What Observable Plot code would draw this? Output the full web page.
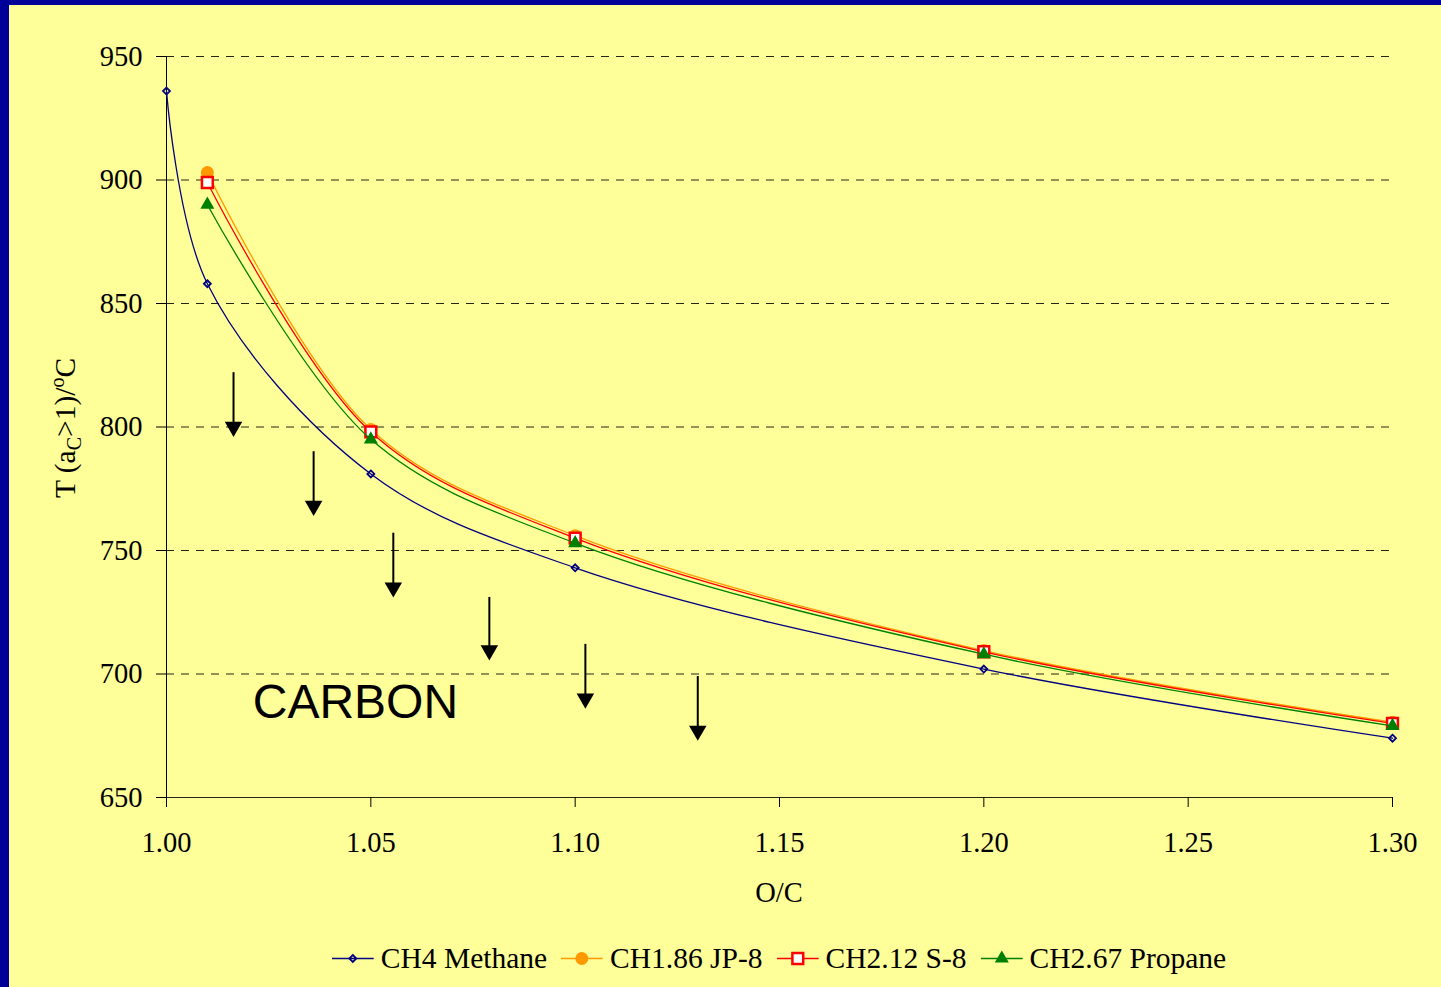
<!DOCTYPE html>
<html>
<head>
<meta charset="utf-8">
<script src="https://cdn.jsdelivr.net/npm/d3@7"></script>
<script src="https://cdn.jsdelivr.net/npm/@observablehq/plot@0.6"></script>
<style>
  html, body { margin: 0; padding: 0; width: 1441px; height: 987px; overflow: hidden; background: #000099; }
  #frame { position: absolute; left: 9px; top: 5px; width: 1432px; height: 982px; background: #ffff99; }
  #chart { position: absolute; left: 0; top: 0; }
  #legend {
    position: absolute; left: 770px; top: 953px; transform: translate(-50%, -50%);
    display: flex; align-items: center; white-space: nowrap;
    font-family: "Liberation Serif", "Times New Roman", serif; font-size: 29.5px; color: #000;
  }
  .item { display: flex; align-items: center; margin: 0 7px; }
  .item svg { margin-right: 7px; }
</style>
</head>
<body>
<div id="frame">
  <div id="chart"></div>
  <div id="legend"></div>
</div>
<script>
// O/C ratios at which each equilibrium temperature was computed
const ocMethane = [1.00, 1.01, 1.05, 1.10, 1.20, 1.30];
const ocFuels = [1.01, 1.05, 1.10, 1.20, 1.30];

// Temperature (°C) above which carbon activity a_C > 1
const tMethane = [936, 858, 781, 743, 702, 674];
const tJP8 = [903, 799, 756, 709.5, 680.5];
const tS8 = [899, 798, 755, 709, 680];
const tPropane = [890, 795, 753, 708, 679];

const seriesNames = ["CH4 Methane", "CH1.86 JP-8", "CH2.12 S-8", "CH2.67 Propane"];

// Axis ticks
const xTicks = [1.00, 1.05, 1.10, 1.15, 1.20, 1.25, 1.30];
const yTicks = [650, 700, 750, 800, 850, 900, 950];
const gridValues = [700, 750, 800, 850, 900, 950];

// Downward arrows marking the carbon-forming region
const arrowX = [1.0164, 1.036, 1.0555, 1.079, 1.1025, 1.130];
const arrowTop = [822, 790, 757, 731, 712, 699];
const arrowTip = [796, 764, 731, 705.5, 686, 673];

const regionLabel = ["CARBON"];
const regionLabelX = [1.0211];
const regionLabelY = [688.5];

// Line and marker styles per series
const styles = {
  "CH4 Methane":    {color: "#000080", symbol: "diamond2", r: 3.15, fill: "none",    stroke: "#000080", sw: 1.8},
  "CH1.86 JP-8":    {color: "#FF9900", symbol: "circle",   r: 6.5,  fill: "#FF9900", stroke: "none",    sw: 0},
  "CH2.12 S-8":     {color: "#FF0000", symbol: "square",   r: 6.1,  fill: "#FFFFFF", stroke: "#FF0000", sw: 2.5},
  "CH2.67 Propane": {color: "#008000", symbol: "triangle", r: 5.2,  fill: "#008000", stroke: "none",    sw: 0}
};

const seriesX = [ocMethane, ocFuels, ocFuels, ocFuels];
const seriesY = [tMethane, tJP8, tS8, tPropane];

const rowsBySeries = seriesNames.map((name, i) =>
  seriesX[i].map((x, j) => ({name, oc: x, t: seriesY[i][j]}))
);

const arrows = arrowX.map((x, i) => ({x, top: arrowTop[i], tip: arrowTip[i]}));
const labels = regionLabel.map((text, i) => ({text, x: regionLabelX[i], y: regionLabelY[i]}));

const seriesMarks = rowsBySeries.flatMap((rows, i) => {
  const s = styles[seriesNames[i]];
  return [
    Plot.line(rows, {x: "oc", y: "t", stroke: s.color, strokeWidth: 1.3, curve: "catmull-rom"}),
    Plot.dot(rows, {x: "oc", y: "t", symbol: () => s.symbol, r: s.r, fill: s.fill, stroke: s.stroke, strokeWidth: s.sw})
  ];
});

const chart = Plot.plot({
  width: 1432,
  height: 915,
  marginLeft: 157,
  marginRight: 49,
  marginTop: 51,
  marginBottom: 123,
  style: {background: "none", fontFamily: "Liberation Serif, Times New Roman, serif", fontSize: "28.5px", color: "#000", overflow: "visible"},
  x: {domain: [1.0, 1.3], ticks: xTicks, tickFormat: d3.format(".2f"), tickSize: 10, tickPadding: 24, label: null},
  y: {domain: [650, 950], ticks: yTicks, tickSize: 10, tickPadding: 14, label: null},
  symbol: {type: "identity"},
  marks: [
    Plot.ruleY(gridValues, {stroke: "#000", strokeOpacity: 0.85, strokeDasharray: "8,7"}),
    Plot.ruleY([650], {stroke: "#000", strokeOpacity: 0.85}),
    Plot.ruleX([1.0], {stroke: "#000"}),
    ...seriesMarks,
    Plot.ruleX(arrows, {x: "x", y1: "top", y2: "tip", stroke: "#000", strokeWidth: 2, insetBottom: 8}),
    Plot.dot(arrows, {x: "x", y: "tip", symbol: "triangle", rotate: 180, r: 6.5, fill: "#000", dy: -10}),
    Plot.text(labels, {x: "x", y: "y", text: "text", textAnchor: "start", fontSize: 48, fontFamily: "Liberation Sans, Arial, sans-serif", fill: "#000"})
  ]
});

document.getElementById("chart").appendChild(chart);

// Axis titles, with the sub- and superscripts of the y title
const svg = d3.select(chart);
const yTitle = svg.append("text")
  .attr("transform", "translate(66,423) rotate(-90)")
  .attr("text-anchor", "middle")
  .attr("font-size", 29.5)
  .attr("fill", "#000");
yTitle.append("tspan").text("T (a");
yTitle.append("tspan").attr("font-size", 20).attr("dy", 6).text("C");
yTitle.append("tspan").attr("dy", -6).text(">1)/");
yTitle.append("tspan").attr("font-size", 20).attr("dy", -11).text("o");
yTitle.append("tspan").attr("dy", 11).text("C");

svg.append("text")
  .attr("x", 770).attr("y", 897)
  .attr("text-anchor", "middle")
  .attr("font-size", 28.5)
  .attr("fill", "#000")
  .text("O/C");

// Legend below the plot
const legend = d3.select("#legend");
seriesNames.forEach(name => {
  const s = styles[name];
  const item = legend.append("div").attr("class", "item");
  const sw = item.append("svg").attr("width", 42).attr("height", 20);
  sw.append("line").attr("x1", 0).attr("x2", 42).attr("y1", 10).attr("y2", 10)
    .attr("stroke", s.color).attr("stroke-width", 1.3);
  const sym = {diamond2: d3.symbolDiamond2, circle: d3.symbolCircle, square: d3.symbolSquare, triangle: d3.symbolTriangle}[s.symbol];
  sw.append("path")
    .attr("transform", "translate(21,10)")
    .attr("d", d3.symbol(sym, Math.PI * s.r * s.r)())
    .attr("fill", s.fill).attr("stroke", s.stroke).attr("stroke-width", s.sw);
  item.append("span").text(name);
});
</script>
</body>
</html>
